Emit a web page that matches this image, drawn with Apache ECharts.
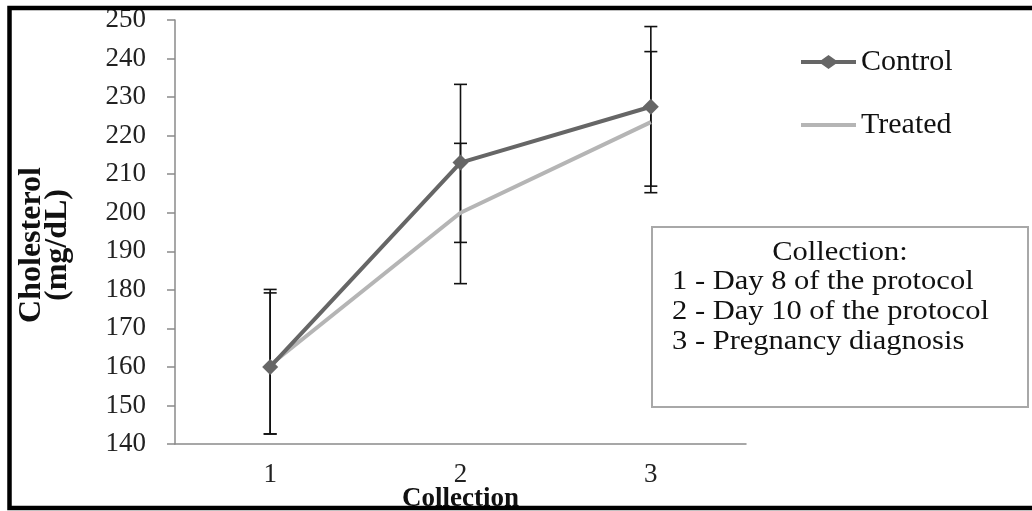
<!DOCTYPE html>
<html>
<head>
<meta charset="utf-8">
<script src="https://cdn.jsdelivr.net/npm/echarts@6/dist/echarts.min.js"></script>
<style>
html,body{margin:0;padding:0;background:#fff;}
#chart{width:1032px;height:511px;}
</style>
</head>
<body>
<div id="chart"></div>
<script>
const categories = ['1', '2', '3'];
const controlValues = [160, 213, 227.5];
const treatedValues = [160.5, 200, 223.5];
const controlLow = [142.6, 192.3, 206.9];
const controlHigh = [180.1, 233.3, 248.3];
const treatedLow = [142.6, 181.6, 205.2];
const treatedHigh = [179.2, 218.0, 241.8];
const yTicks = { min: 140, max: 250, interval: 10 };
const boxLines = ['Collection:', '1 - Day 8 of the protocol', '2 - Day 10 of the protocol', '3 - Pregnancy diagnosis'];

const FONT = '"Liberation Serif", "Times New Roman", serif';
const chart = echarts.init(document.getElementById('chart'), null, { renderer: 'canvas' });

function errData(lo, hi) {
  return categories.map((c, i) => [i, lo[i], hi[i]]);
}
function errRender(params, api) {
  const x = api.value(0);
  const pLo = api.coord([x, api.value(1)]);
  const pHi = api.coord([x, api.value(2)]);
  const w = 6.5;
  const st = { stroke: '#111', lineWidth: 1.6 };
  return {
    type: 'group',
    children: [
      { type: 'line', shape: { x1: pLo[0], y1: pLo[1], x2: pHi[0], y2: pHi[1] }, style: st },
      { type: 'line', shape: { x1: pLo[0] - w, y1: pLo[1], x2: pLo[0] + w, y2: pLo[1] }, style: st },
      { type: 'line', shape: { x1: pHi[0] - w, y1: pHi[1], x2: pHi[0] + w, y2: pHi[1] }, style: st }
    ]
  };
}

const BOX_FONT = '27px ' + FONT;
const BOX_SCALE = 1.13;

const option = {
  backgroundColor: '#fff',
  animation: false,
  grid: { left: 175, right: 286, top: 20, bottom: 67, containLabel: false, outerBoundsMode: 'none' },
  legend: {
    orient: 'vertical',
    left: 796,
    top: 42,
    itemWidth: 55,
    itemHeight: 14,
    itemGap: 33,
    data: [
      { name: 'Control', icon: 'path://M0,5 L20.5,5 L27.5,0 L34.5,5 L55,5 L55,9 L34.5,9 L27.5,14 L20.5,9 L0,9 Z' },
      { name: 'Treated', icon: 'path://M0,5 L55,5 L55,9 L0,9 Z' }
    ],
    textStyle: { fontFamily: FONT, fontSize: 30, color: '#111', lineHeight: 30 }
  },
  xAxis: {
    type: 'category',
    data: categories,
    boundaryGap: true,
    name: 'Collection',
    nameLocation: 'middle',
    nameGap: 42,
    nameMoveOverlap: false,
    nameTextStyle: { fontFamily: FONT, fontSize: 27, fontWeight: 'bold', color: '#111' },
    axisLine: { lineStyle: { color: '#8a8a8a', width: 1.5 } },
    axisTick: { show: false },
    axisLabel: { fontFamily: FONT, fontSize: 27, color: '#222', margin: 17 },
    splitLine: { show: false }
  },
  yAxis: {
    type: 'value',
    min: yTicks.min,
    max: yTicks.max,
    interval: yTicks.interval,
    name: 'Cholesterol\n(mg/dL)',
    nameLocation: 'middle',
    nameGap: 104,
    nameMoveOverlap: false,
    nameRotate: 90,
    nameTextStyle: { fontFamily: FONT, fontSize: 32, fontWeight: 'bold', color: '#111', lineHeight: 26, padding: [0, 26, 0, 0] },
    axisLine: { show: true, lineStyle: { color: '#8a8a8a', width: 1.5 } },
    axisTick: { show: true, length: 8, lineStyle: { color: '#8a8a8a', width: 1.5 } },
    axisLabel: { fontFamily: FONT, fontSize: 27, color: '#222', margin: 29 },
    splitLine: { show: false }
  },
  series: [
    {
      name: 'Control err', type: 'custom', renderItem: errRender, data: errData(controlLow, controlHigh),
      encode: { x: 0, y: [1, 2] }, z: 1, silent: true
    },
    {
      name: 'Treated err', type: 'custom', renderItem: errRender, data: errData(treatedLow, treatedHigh),
      encode: { x: 0, y: [1, 2] }, z: 1, silent: true
    },
    {
      name: 'Treated', type: 'line', data: treatedValues, symbol: 'none',
      lineStyle: { color: '#b5b5b5', width: 4 }, itemStyle: { color: '#b5b5b5' }, z: 2
    },
    {
      name: 'Control', type: 'line', data: controlValues, symbol: 'diamond', symbolSize: 16,
      lineStyle: { color: '#666666', width: 4 }, itemStyle: { color: '#666666' }, z: 3
    }
  ],
  graphic: [
    {
      type: 'rect', shape: { x: 9.5, y: 8, width: 1040, height: 500 },
      style: { fill: 'none', stroke: '#000', lineWidth: 4.5 }, z: 100, silent: true
    },
    {
      type: 'rect', shape: { x: 652, y: 227, width: 376, height: 180 },
      style: { fill: '#fff', stroke: '#a8a8a8', lineWidth: 2 }, z: 50
    },
    {
      type: 'text', x: 840, y: 253, z: 51, scaleX: BOX_SCALE,
      style: { text: boxLines[0], fill: '#111', font: BOX_FONT, textAlign: 'center', textVerticalAlign: 'middle' }
    },
    {
      type: 'text', x: 672, y: 282, z: 51, scaleX: BOX_SCALE,
      style: { text: boxLines[1], fill: '#111', font: BOX_FONT, textAlign: 'left', textVerticalAlign: 'middle' }
    },
    {
      type: 'text', x: 672, y: 312, z: 51, scaleX: BOX_SCALE,
      style: { text: boxLines[2], fill: '#111', font: BOX_FONT, textAlign: 'left', textVerticalAlign: 'middle' }
    },
    {
      type: 'text', x: 672, y: 342, z: 51, scaleX: BOX_SCALE,
      style: { text: boxLines[3], fill: '#111', font: BOX_FONT, textAlign: 'left', textVerticalAlign: 'middle' }
    }
  ]
};
chart.setOption(option);
</script>
</body>
</html>
